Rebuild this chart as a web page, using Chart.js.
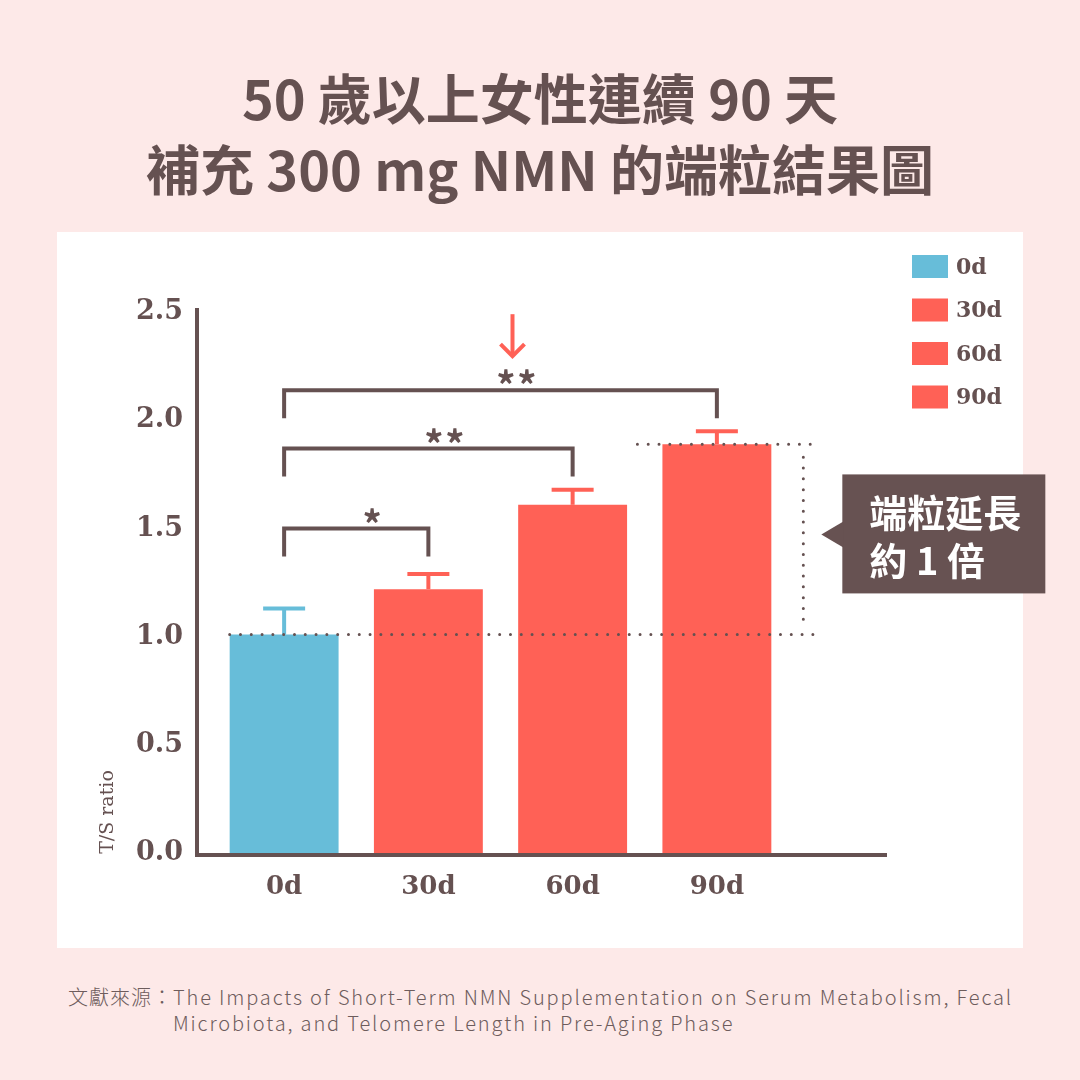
<!DOCTYPE html>
<html>
<head>
<meta charset="utf-8">
<script src="https://cdn.jsdelivr.net/npm/chart.js@4/dist/chart.umd.min.js"></script>
<style>
  html, body { margin: 0; padding: 0; }
  body { width: 1080px; height: 1080px; background: #fde9e8; position: relative; overflow: hidden; font-family: "Noto Sans CJK TC", sans-serif; color: #655151; }
  .title { position: absolute; left: 0; top: 61px; width: 1080px; text-align: center; font-size: 54px; font-weight: 700; line-height: 71px; }
  .panel { position: absolute; left: 57px; top: 232px; width: 966px; height: 716px; background: #ffffff; }
  .note { position: absolute; left: 68px; top: 984px; display: flex; font-size: 20px; line-height: 26px; color: #6d5c5c; font-weight: 300; }
  .note .lbl { letter-spacing: 1px; }
  .note .txt { letter-spacing: 1.85px; }
  canvas { position: absolute; left: 0; top: 0; }
</style>
</head>
<body>
<div class="title">50 歲以上女性連續 90 天<br>補充 300 mg NMN 的端粒結果圖</div>
<div class="panel"></div>
<div class="note"><span class="lbl">文獻來源：</span><span class="txt">The Impacts of Short-Term NMN Supplementation on Serum Metabolism, Fecal<br>Microbiota, and Telomere Length in Pre-Aging Phase</span></div>
<canvas id="telomereChart" width="1080" height="1080"></canvas>
<script>
// chart data
const categories = ["0d", "30d", "60d", "90d"];
const tsRatio = [1.01, 1.22, 1.61, 1.89];
const tsError = [0.12, 0.07, 0.07, 0.06];
const yTicks = [0, 0.5, 1.0, 1.5, 2.0, 2.5];
const brackets = [
  { from: 0, to: 1, level: 1.5, mark: "*" },
  { from: 0, to: 2, level: 1.87, mark: "**" },
  { from: 0, to: 3, level: 2.14, mark: "**" }
];

const brown = "#655151";
const blue = "#67bdd9";
const red = "#ff6156";
const barColors = [blue, red, red, red];
const serif = "DejaVu Serif";
const sans = "Noto Sans CJK TC";

function line(ctx, x1, y1, x2, y2) {
  ctx.beginPath();
  ctx.moveTo(x1, y1);
  ctx.lineTo(x2, y2);
  ctx.stroke();
}

function dotted(ctx, x1, y1, x2, y2) {
  ctx.save();
  ctx.strokeStyle = brown;
  ctx.lineWidth = 3;
  ctx.lineCap = "round";
  ctx.setLineDash([0, 10.8]);
  line(ctx, x1, y1, x2, y2);
  ctx.restore();
}

// axes, error bars, brackets, callout, legend
const decorations = {
  id: "decorations",
  afterDatasetsDraw(chart) {
    const ctx = chart.ctx;
    const area = chart.chartArea;
    const y = chart.scales.y;
    const bars = chart.getDatasetMeta(0).data;
    ctx.save();

    // axis lines
    ctx.strokeStyle = brown;
    ctx.lineWidth = 4;
    line(ctx, area.left - 15, area.top, area.left - 15, area.bottom + 4);
    line(ctx, area.left - 17, area.bottom + 2, area.right + 98, area.bottom + 2);

    // error bars
    tsRatio.forEach((v, i) => {
      const bx = bars[i].x;
      const y0 = y.getPixelForValue(v);
      const y1 = y.getPixelForValue(v + tsError[i]);
      ctx.strokeStyle = barColors[i];
      ctx.lineWidth = 4;
      line(ctx, bx, y0, bx, y1);
      line(ctx, bx - 21, y1, bx + 21, y1);
    });

    // dotted guide lines
    const first = bars[0], last = bars[bars.length - 1];
    const yLow = y.getPixelForValue(tsRatio[0]);
    const yHigh = y.getPixelForValue(tsRatio[tsRatio.length - 1]);
    const lastRight = last.x + last.width / 2;
    dotted(ctx, first.x - first.width / 2, yLow, lastRight + 45, yLow);
    dotted(ctx, last.x - last.width / 2 - 25, yHigh, lastRight + 45, yHigh);
    const vx = lastRight + 32;
    dotted(ctx, vx, yHigh + 13, vx, yLow - 13);

    // significance brackets
    let topStar = null;
    brackets.forEach(b => {
      const ly = y.getPixelForValue(b.level);
      const x1 = bars[b.from].x, x2 = bars[b.to].x;
      ctx.strokeStyle = brown;
      ctx.lineWidth = 4;
      ctx.lineJoin = "miter";
      ctx.beginPath();
      ctx.moveTo(x1, ly + 28);
      ctx.lineTo(x1, ly);
      ctx.lineTo(x2, ly);
      ctx.lineTo(x2, ly + 28);
      ctx.stroke();
      const sx = (x1 + x2) / 2 + 16;
      ctx.fillStyle = brown;
      ctx.font = "bold 38px '" + sans + "'";
      ctx.textAlign = "center";
      ctx.textBaseline = "alphabetic";
      const n = b.mark.length;
      for (let k = 0; k < n; k++) {
        ctx.fillText("*", sx + (k - (n - 1) / 2) * 21, ly + 10);
      }
      topStar = { x: sx, y: ly };
    });

    // red arrow above the top bracket
    ctx.strokeStyle = red;
    ctx.lineWidth = 4;
    ctx.lineCap = "butt";
    const ax = topStar.x - 4;
    const aTip = topStar.y - 34;
    line(ctx, ax, topStar.y - 76, ax, aTip);
    ctx.beginPath();
    ctx.moveTo(ax - 12, aTip - 12);
    ctx.lineTo(ax, aTip);
    ctx.lineTo(ax + 12, aTip - 12);
    ctx.stroke();

    // callout box
    const cy = (yHigh + yLow) / 2 - 6;
    const boxL = vx + 39;
    ctx.fillStyle = "#675252";
    ctx.fillRect(boxL, cy - 59, 203, 119);
    ctx.beginPath();
    ctx.moveTo(vx + 18, cy + 1);
    ctx.lineTo(boxL + 1, cy - 12);
    ctx.lineTo(boxL + 1, cy + 14);
    ctx.closePath();
    ctx.fill();
    ctx.fillStyle = "#ffffff";
    ctx.font = "bold 38px '" + sans + "'";
    ctx.textAlign = "left";
    ctx.textBaseline = "middle";
    ctx.fillText("端粒延長", boxL + 27, cy - 21);
    ctx.fillText("約 1 倍", boxL + 27, cy + 27);

    // legend
    ctx.font = "bold 22px '" + serif + "'";
    ctx.textBaseline = "middle";
    categories.forEach((c, i) => {
      const ly = 255 + i * 43.5;
      ctx.fillStyle = barColors[i];
      ctx.fillRect(912, ly, 36, 23);
      ctx.fillStyle = brown;
      ctx.fillText(c, 956, ly + 13);
    });

    // y axis title
    ctx.save();
    ctx.translate(108, 812);
    ctx.rotate(-Math.PI / 2);
    ctx.font = "19px '" + serif + "'";
    ctx.fillStyle = brown;
    ctx.textAlign = "center";
    ctx.fillText("T/S ratio", 0, 0);
    ctx.restore();

    ctx.restore();
  }
};

const ctx = document.getElementById("telomereChart").getContext("2d");
new Chart(ctx, {
  type: "bar",
  data: {
    labels: categories,
    datasets: [{
      data: tsRatio,
      backgroundColor: barColors,
      barPercentage: 0.755,
      categoryPercentage: 1
    }]
  },
  options: {
    responsive: false,
    animation: false,
    layout: { padding: { top: 308, right: 291, bottom: 160, left: 0 } },
    plugins: {
      legend: { display: false },
      tooltip: { enabled: false }
    },
    scales: {
      x: {
        grid: { display: false, drawTicks: false },
        border: { display: false },
        ticks: { color: brown, padding: 19, font: { family: serif, weight: "bold", size: 26 } },
        afterFit: s => { s.height = 67; }
      },
      y: {
        min: 0,
        max: 2.52,
        grid: { display: false, drawTicks: false },
        border: { display: false },
        afterBuildTicks: s => { s.ticks = yTicks.map(v => ({ value: v })); },
        ticks: {
          color: brown,
          padding: 29,
          font: { family: serif, weight: "bold", size: 27 },
          callback: v => Number(v).toFixed(1)
        },
        afterFit: s => { s.width = 212; }
      }
    }
  },
  plugins: [decorations]
});
</script>
</body>
</html>
